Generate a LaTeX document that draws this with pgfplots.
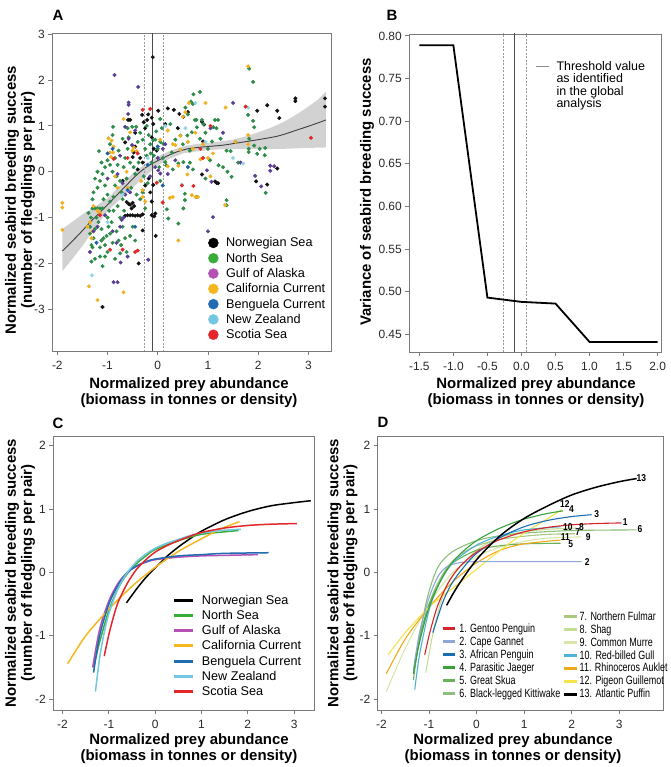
\documentclass[border=0pt]{standalone}
\usepackage{fontspec}
\setmainfont{Liberation Sans}
\newfontfamily\narrowfont[FakeStretch=0.75]{Liberation Sans}
\newfontfamily\labelfont[FakeStretch=0.85]{Liberation Sans}
\usepackage{pgfplots}
\pgfplotsset{compat=1.18}

% region colours (legends) and point colours (scatter)
\definecolor{axgray}{HTML}{7A7A7A}
\definecolor{tickgray}{HTML}{2A2A2A}
\definecolor{cNor}{HTML}{000000}
\definecolor{cNS}{HTML}{3AAC3A}
\definecolor{cGoA}{HTML}{B550B5}
\definecolor{cCal}{HTML}{F5B71E}
\definecolor{cBen}{HTML}{1F6CB3}
\definecolor{cNZ}{HTML}{74C7E2}
\definecolor{cSco}{HTML}{E3262A}
\definecolor{pNor}{HTML}{111111}
\definecolor{pNS}{HTML}{2E8C4A}
\definecolor{pGoA}{HTML}{5A3E96}
\definecolor{pCal}{HTML}{F0B020}
\definecolor{pBen}{HTML}{2060A8}
\definecolor{pNZ}{HTML}{8FD4E6}
\definecolor{pSco}{HTML}{E02828}
% species colours
\definecolor{s1}{HTML}{D7262B}
\definecolor{s2}{HTML}{8FA7D6}
\definecolor{s3}{HTML}{1B6DB4}
\definecolor{s4}{HTML}{3AA23A}
\definecolor{s5}{HTML}{6AB25A}
\definecolor{s6}{HTML}{8CBF7A}
\definecolor{s7}{HTML}{A9C97F}
\definecolor{s8}{HTML}{C5DD95}
\definecolor{s9}{HTML}{D8E6A8}
\definecolor{s10}{HTML}{4FB3D9}
\definecolor{s11}{HTML}{F0A91B}
\definecolor{s12}{HTML}{F5E34A}
\definecolor{s13}{HTML}{000000}

\pgfplotsset{
  panel/.style={
    scale only axis, anchor=south west,
    axis line style={draw=axgray, line width=0.9bp},
    every tick/.style={draw=axgray, line width=0.9bp},
    tick align=outside, major tick length=4bp,
    xtick pos=bottom, ytick pos=left,
    ticklabel style={font=\fontsize{12}{14}\selectfont, text=tickgray},
    xticklabel style={yshift=-3bp},
    /pgf/number format/assume math mode=true,
    legend cell align=left,
  },
  dot/.style={only marks, mark=*, mark size=1.8bp, forget plot},
  thrsolid/.style={draw=black!70, line width=1.1bp, forget plot},
  thrdash/.style={draw=black!40, line width=0.8bp, dash pattern=on 2bp off 1.5bp, forget plot},
  rcurve/.style={smooth, line width=1.5bp, forget plot},
  scurve/.style={smooth, line width=1.1bp, forget plot},
}

\begin{document}
\begin{tikzpicture}[x=1bp,y=1bp]
\useasboundingbox (0,0) rectangle (671,767);

%================ Panel A: breeding success vs prey abundance
\begin{axis}[panel, at={(52.3bp,416bp)}, width=278.7bp, height=317.7bp,
  xmin=-2.1, xmax=3.45, ymin=-3.91, ymax=3.02,
  xtick={-2,-1,0,1,2,3}, ytick={-3,-2,-1,0,1,2,3},
  legend image code/.code={\draw[#1] plot coordinates {(5bp,0bp)};},
  legend style={at={(0.56,0.359)}, anchor=north west, draw=none, fill=none,
    inner sep=0pt, outer sep=0pt, row sep=3.3bp, column sep=7.7bp,
    font=\fontsize{12.7}{14}\selectfont,
    nodes={inner sep=0pt, text height=10bp, text depth=2bp}},
]
% Norwegian Sea
\addplot[dot, color=pNor] coordinates {
(-0.10,2.50) (-0.59,1.13) (-0.55,1.13) (-0.31,1.24) (-0.28,1.08) (-0.21,1.13) (-0.19,1.25) (-0.12,1.18) (-0.25,0.95) (-0.65,0.64) (-0.48,0.42) (-0.50,0.32) (-0.45,0.55) (-0.35,0.30) (-0.30,0.20) (-0.40,0.05)
(0.01,1.33) (0.32,1.35) (0.43,1.26) (0.51,1.20) (0.88,1.09) (0.92,1.03) (0.90,0.66) (-0.09,1.04) (0.15,1.04) (-0.12,0.75) (-0.02,0.46) (-0.08,0.50) (0.20,1.38)
(-0.62,-0.66) (-0.58,-0.70) (-0.55,-0.72) (-0.50,-0.68) (-0.47,-0.75) (-0.52,-0.80) (-0.65,-0.96) (-0.60,-0.95) (-0.55,-0.95) (-0.50,-0.95) (-0.45,-0.96) (-0.40,-0.95) (-0.35,-0.96) (-0.30,-0.93) (-0.12,-0.95) (-0.07,-0.97) (-0.04,-1.40) (-0.30,-1.28) (-0.38,-2.00) (-1.10,-2.95) (-0.15,-0.45) (-0.09,-0.29) (-0.05,-0.91) (-0.12,-0.65) (-0.18,-0.15) (-0.25,-0.30) (-0.70,-0.20) (-0.45,0.85)
(0.88,-0.06) (1.14,-0.21) (1.17,-0.24) (1.20,-0.25) (1.96,-0.21) (2.18,-0.28) (2.38,0.07) (1.98,1.33) (2.18,1.45) (2.38,1.33) (2.42,1.17) (2.74,1.60) (2.74,1.54) (3.33,1.60) (3.33,1.42) (0.60,1.30) (0.40,0.95)
};
% North Sea
\addplot[dot, color=pNS] coordinates {
(-1.35,-1.20) (-1.32,-1.60) (-1.30,-1.65) (-1.28,-1.45) (-1.25,-1.25) (-1.30,-0.80) (-1.25,-0.80) (-1.20,-0.80) (-1.15,-0.80) (-1.10,-0.80) (-1.22,-1.00) (-1.18,-1.10) (-1.12,-1.25) (-1.08,-1.45) (-1.05,-1.60) (-1.00,-1.75) (-1.15,-1.85) (-1.25,-1.90) (-1.32,-1.96) (-1.10,-2.06) (-1.05,-1.85) (-1.35,-1.35) (-1.28,-0.45) (-1.20,-0.35) (-1.15,-0.20) (-1.10,-0.05) (-1.05,0.10) (-1.12,0.20) (-1.20,0.00) (-1.25,-0.15) (-1.00,0.25) (-0.95,0.15) (-0.90,0.00) (-1.05,-0.30) (-1.00,-0.50) (-0.95,-0.65) (-1.08,-0.60) (-1.00,-1.00) (-0.98,-1.20) (-0.95,-1.35) (-1.02,-1.40) (-1.12,-1.50) (-0.90,-1.55) (-0.92,-1.10) (-0.88,-0.85) (-0.85,-0.30) (-0.82,-0.10) (-1.17,0.45) (-0.95,0.60) (-0.90,0.80) (-0.89,0.98) (-1.30,-0.60) (-1.33,-1.00) (-1.38,-0.90) (-1.15,-1.65) (-0.97,-0.85)
(-0.85,0.30) (-0.80,0.15) (-0.78,0.46) (-0.75,-0.20) (-0.72,-0.45) (-0.70,-0.60) (-0.68,0.10) (-0.65,0.30) (-0.62,-0.15) (-0.60,0.50) (-0.58,0.75) (-0.55,0.20) (-0.53,-0.35) (-0.51,0.98) (-0.43,0.98) (-0.48,0.10) (-0.45,-0.05) (-0.42,-0.50) (-0.40,0.65) (-0.38,0.20) (-0.82,-1.30) (-0.78,-1.50) (-0.75,-1.00) (-0.70,-1.20) (-0.65,-1.45) (-0.62,-1.75) (-0.75,-1.78) (-0.85,-1.90) (-0.55,-1.40) (-0.50,-1.20) (-0.45,-1.50) (-0.88,-0.55) (-0.80,-0.75) (-0.67,-0.85) (-0.60,0.95) (-0.70,0.72) (-0.73,-1.60)
(-0.35,0.85) (-0.30,0.70) (-0.28,-0.10) (-0.25,0.50) (-0.22,0.35) (-0.18,0.80) (-0.15,0.60) (-0.12,0.20) (-0.08,0.35) (-0.05,0.70) (-0.03,0.88) (0.00,0.50) (0.03,0.10) (0.05,0.65) (0.08,0.95) (-0.20,-0.25) (-0.30,-0.45) (-0.35,-0.60) (-0.25,-0.80) (0.05,-0.20) (0.10,0.30) (-0.22,1.00) (-0.14,0.40)
(0.71,1.69) (0.84,1.74) (0.66,1.53) (0.70,1.48) (0.74,1.13) (0.77,1.13) (0.88,1.13) (0.91,1.04) (1.14,1.13) (1.20,1.13) (1.11,0.97) (1.17,0.95) (0.78,0.97) (0.68,0.86) (0.59,0.79) (0.45,0.79) (0.84,0.72) (1.08,0.66) (1.25,0.72) (1.37,0.46) (0.64,0.46) (0.28,0.42) (0.11,0.61) (-0.09,0.69) (0.25,1.04) (0.05,1.15) (0.35,0.70) (0.50,0.60) (0.95,0.85) (1.00,0.50) (0.55,1.40) (0.60,1.25)
(0.15,0.21) (0.17,0.14) (0.51,0.21) (0.41,0.18) (0.64,0.20) (1.04,0.25) (1.21,0.14) (1.39,0.00) (1.47,-0.11) (0.54,-0.48) (0.54,-0.62) (0.51,-0.80) (0.18,-0.82) (0.21,-1.02) (0.41,-1.13) (0.78,-0.55) (1.37,-0.62) (1.37,-0.73) (0.30,0.05) (0.70,0.05) (0.95,-0.15)
(1.80,1.24) (1.90,1.11) (1.92,0.97) (1.82,0.72) (1.92,0.57) (1.81,0.50) (2.03,0.50) (2.14,0.52) (1.81,0.43) (1.98,0.39) (2.13,0.36) (1.90,1.96) (1.82,2.25) (2.15,-0.46) (1.55,0.65) (1.45,0.45) (1.60,0.20) (1.30,0.10)
};
% California Current
\addplot[dot, color=pCal] coordinates {
(-1.90,-0.68) (-1.90,-0.78) (-1.90,-1.27) (-1.37,-2.50) (-1.20,-2.80) (-0.68,-2.63) (-1.30,-1.30) (-1.32,-1.45) (-1.35,-1.10) (-1.28,-0.75) (-1.20,-0.85) (-1.15,-0.90) (-0.80,-0.35) (-0.88,0.55) (-0.89,0.42) (-0.98,0.73) (-0.92,0.68) (-0.68,1.15) (-0.55,0.86) (-0.48,0.53) (-0.50,0.46) (-0.95,0.42) (-0.93,0.32) (-0.85,-0.10) (-0.60,-0.35) (-0.62,0.00) (-0.33,-0.20) (-0.30,-0.40) (-0.30,-0.55) (-0.25,-0.65) (-0.42,0.45) (-1.40,-1.20)
(0.05,0.70) (0.20,0.12) (0.35,0.58) (0.45,0.78) (0.50,1.20) (0.55,1.30) (0.60,0.65) (0.62,1.50) (0.70,0.50) (0.75,0.85) (0.85,0.27) (0.95,1.50) (0.90,0.60) (1.00,0.30) (1.05,-0.10) (0.30,-0.55) (0.41,-1.50) (0.68,-0.51) (0.75,-0.55) (0.80,-0.55) (0.20,0.90) (0.45,0.48) (1.35,1.40) (1.34,-0.73) (1.55,0.65) (1.80,0.80) (1.80,0.60) (1.80,2.30) (0.30,0.60) (0.41,0.13) (0.59,-0.06) (0.24,-0.57) (1.10,0.40)
};
% Gulf of Alaska
\addplot[dot, color=pGoA] coordinates {
(-0.86,2.11) (-0.39,1.85) (-0.58,1.51) (-0.58,1.46) (-0.59,1.26) (-0.65,0.98) (-0.58,0.72) (-0.51,0.58) (-0.75,0.35) (-0.80,-0.05) (-0.70,-0.25) (-0.65,-0.50) (-0.55,-0.45) (-1.05,-0.95) (-0.90,-1.30) (-0.82,-1.55) (-0.75,-1.20) (-0.72,-1.05) (-0.68,-1.00) (-0.60,-1.85) (-0.88,-2.41) (-0.80,-2.41) (-0.19,-1.92) (-0.74,-1.98) (-1.35,-1.75) (-1.28,-1.30) (-1.20,-1.20) (-0.15,-0.10) (-0.05,0.10) (0.00,0.30) (0.01,0.03) (0.05,-0.04) (0.10,0.50) (0.15,0.60) (0.35,0.25) (0.98,0.03) (1.07,-0.22) (1.10,-0.99) (1.00,-1.30) (1.50,1.50) (1.65,0.20) (1.30,0.85) (2.24,0.13) (2.24,0.02) (1.94,-0.09) (2.06,-0.32) (2.32,0.12) (1.05,0.95) (0.20,-0.05) (-0.45,0.90) (-1.00,-0.15)
};
% Benguela Current
\addplot[dot, color=pBen] coordinates {
(-0.90,0.50) (-0.45,-1.20) (-0.20,0.15) (0.00,0.55) (0.60,0.10) (-1.00,0.40) (0.10,-0.30) (-0.60,-0.40) (-1.22,-1.55)
};
% New Zealand
\addplot[dot, color=pNZ] coordinates {
(1.80,1.40) (-1.31,-2.26) (0.75,1.50) (0.95,0.65) (0.48,-0.28) (-0.20,0.30) (0.55,0.95) (-0.70,-0.50) (1.70,0.18) (0.15,1.00) (1.50,0.30) (-1.00,-1.10)
};
% Scotia Sea
\addplot[dot, color=pSco] coordinates {
(-0.15,1.37) (-0.88,0.28) (-0.95,-1.70) (-0.70,-1.70) (-0.45,-1.75) (-0.40,-1.72) (0.10,-0.67) (0.48,-0.30) (0.71,-0.31) (0.90,0.30) (1.05,1.00) (1.75,1.42) (3.05,0.74) (-0.60,0.30) (-0.40,0.40) (-0.02,-0.24) (0.85,0.50) (-1.15,-0.95) (-0.30,1.35)
};
% confidence band of the smoothed fit (upper edge, then lower edge back)
\addplot[fill=black!25, fill opacity=0.7, draw=none, forget plot] coordinates {
(-1.9,-1.25) (-1.7,-1.09) (-1.5,-0.93) (-1.25,-0.76) (-1.0,-0.58) (-0.75,-0.30) (-0.5,-0.04) (-0.25,0.17) (0,0.33) (0.25,0.46) (0.5,0.55) (0.75,0.60) (1,0.63) (1.25,0.66) (1.5,0.70) (1.75,0.77) (2,0.86) (2.25,0.96) (2.5,1.08) (2.75,1.24) (3,1.42) (3.2,1.58) (3.35,1.75)
(3.35,0.53) (3,0.52) (2.5,0.50) (2,0.50) (1.5,0.50) (1.25,0.49) (1,0.47) (0.75,0.44) (0.5,0.40) (0.25,0.29) (0,0.14) (-0.25,-0.10) (-0.5,-0.35) (-0.75,-0.60) (-1.0,-0.86) (-1.25,-1.22) (-1.5,-1.62) (-1.7,-1.90) (-1.9,-2.17)
} -- cycle;
\addplot[smooth, draw=black!75, line width=0.9bp, forget plot] coordinates {
(-1.9,-1.73) (-1.6,-1.40) (-1.3,-1.05) (-1.0,-0.72) (-0.7,-0.38) (-0.4,-0.05) (-0.2,0.12) (0,0.24) (0.2,0.35) (0.4,0.44) (0.6,0.50) (0.8,0.53) (1.0,0.55) (1.3,0.58) (1.6,0.63) (2.0,0.70) (2.4,0.78) (2.8,0.92) (3.1,1.03) (3.35,1.13)};
% threshold and its confidence limits
\addplot[thrdash] coordinates {(-0.27,-4) (-0.27,3.1)};
\addplot[thrdash] coordinates {(0.12,-4) (0.12,3.1)};
\addplot[thrsolid] coordinates {(-0.10,-4) (-0.10,3.1)};
% legend
\addlegendimage{only marks, mark=*, mark size=5bp, color=cNor}\addlegendentry{Norwegian Sea}
\addlegendimage{only marks, mark=*, mark size=5bp, color=cNS}\addlegendentry{North Sea}
\addlegendimage{only marks, mark=*, mark size=5bp, color=cGoA}\addlegendentry{Gulf of Alaska}
\addlegendimage{only marks, mark=*, mark size=5bp, color=cCal}\addlegendentry{California Current}
\addlegendimage{only marks, mark=*, mark size=5bp, color=cBen}\addlegendentry{Benguela Current}
\addlegendimage{only marks, mark=*, mark size=5bp, color=cNZ}\addlegendentry{New Zealand}
\addlegendimage{only marks, mark=*, mark size=5bp, color=cSco}\addlegendentry{Scotia Sea}
\end{axis}

%================ Panel B: variance of breeding success
\begin{axis}[panel, at={(409.3bp,415bp)}, width=252.4bp, height=318bp,
  xmin=-1.647, xmax=2.06, ymin=0.4292, ymax=0.8023,
  xtick={-1.5,-1.0,-0.5,0,0.5,1.0,1.5,2.0},
  ytick={0.45,0.50,0.55,0.60,0.65,0.70,0.75,0.80},
  xticklabel style={/pgf/number format/.cd, fixed, fixed zerofill, precision=1},
  yticklabel style={/pgf/number format/.cd, fixed, fixed zerofill, precision=2},
  legend image code/.code={\draw[#1] (0bp,0bp) -- (13bp,0bp);},
  legend style={at={(0.498,0.917)}, anchor=north west, draw=none, fill=none,
    inner sep=0pt, outer sep=0pt, row sep=0.5bp, column sep=7bp,
    font=\fontsize{12.5}{14}\selectfont,
    nodes={inner sep=0pt, text height=10bp, text depth=2bp}},
]
\addplot[thrdash] coordinates {(-0.27,0.4) (-0.27,0.9)};
\addplot[thrdash] coordinates {(0.07,0.4) (0.07,0.9)};
\addplot[thrsolid] coordinates {(-0.10,0.4) (-0.10,0.9)};
\addplot[black, line width=1.8bp, forget plot] coordinates {
(-1.5,0.789) (-1.0,0.789) (-0.5,0.493) (0.0,0.488) (0.5,0.486) (1.0,0.441) (2.0,0.441)};
\addlegendimage{draw=black!45, line width=1.5bp}\addlegendentry{Threshold value}
\addlegendimage{empty legend}\addlegendentry{as identified}
\addlegendimage{empty legend}\addlegendentry{in the global}
\addlegendimage{empty legend}\addlegendentry{analysis}
\end{axis}

%================ Panel C: fitted curves per region
\begin{axis}[panel, at={(53.3bp,57bp)}, width=260.7bp, height=273.3bp,
  xmin=-2.2, xmax=3.43, ymin=-2.17, ymax=2.14,
  xtick={-2,-1,0,1,2,3}, ytick={-2,-1,0,1,2},
  legend image code/.code={\draw[#1, line width=3bp] (0bp,0bp) -- (19bp,0bp);},
  legend style={at={(0.459,0.4244)}, anchor=north west, draw=none, fill=none,
    inner sep=0pt, outer sep=0pt, row sep=3.3bp, column sep=7bp,
    font=\fontsize{12.7}{14}\selectfont,
    nodes={inner sep=0pt, text height=10bp, text depth=2bp}},
]
\addplot[rcurve, cNor] coordinates {(-0.62,-0.48) (-0.4,-0.26) (-0.2,-0.08) (0,0.07) (0.25,0.25) (0.5,0.40) (0.75,0.53) (1.0,0.65) (1.5,0.83) (2.0,0.96) (2.5,1.05) (3.0,1.10) (3.36,1.13)};
\addplot[rcurve, cNS] coordinates {(-1.33,-1.50) (-1.2,-1.10) (-1.0,-0.60) (-0.8,-0.25) (-0.6,-0.02) (-0.4,0.14) (-0.2,0.26) (0,0.36) (0.5,0.50) (1.0,0.60) (1.5,0.64) (1.8,0.66)};
\addplot[rcurve, cGoA] coordinates {(-1.35,-1.50) (-1.2,-0.90) (-1.0,-0.45) (-0.8,-0.17) (-0.6,0.00) (-0.4,0.10) (-0.2,0.16) (0,0.20) (0.5,0.24) (1.0,0.26) (1.6,0.27) (2.22,0.28)};
\addplot[rcurve, cCal] coordinates {(-1.89,-1.44) (-1.5,-1.00) (-1.0,-0.58) (-0.5,-0.22) (0,0.08) (0.5,0.33) (1.0,0.53) (1.4,0.68) (1.82,0.80)};
\addplot[rcurve, cBen] coordinates {(-1.33,-1.58) (-1.2,-1.00) (-1.0,-0.50) (-0.8,-0.20) (-0.6,0.00) (-0.4,0.10) (-0.2,0.17) (0,0.21) (0.5,0.26) (1.0,0.28) (1.5,0.30) (2.45,0.31)};
\addplot[rcurve, cNZ] coordinates {(-1.29,-1.88) (-1.2,-1.35) (-1.1,-0.95) (-1.0,-0.65) (-0.8,-0.25) (-0.6,0.00) (-0.4,0.17) (-0.2,0.29) (0,0.38) (0.25,0.46) (0.5,0.52) (0.75,0.58) (1.0,0.62) (1.4,0.66) (1.85,0.68)};
\addplot[rcurve, cSco] coordinates {(-1.10,-1.32) (-1.0,-0.98) (-0.9,-0.70) (-0.8,-0.47) (-0.6,-0.17) (-0.4,0.05) (-0.2,0.20) (0,0.32) (0.25,0.42) (0.5,0.50) (0.75,0.57) (1.0,0.63) (1.5,0.70) (2.0,0.74) (2.5,0.76) (3.06,0.77)};
\addlegendimage{cNor}\addlegendentry{Norwegian Sea}
\addlegendimage{cNS}\addlegendentry{North Sea}
\addlegendimage{cGoA}\addlegendentry{Gulf of Alaska}
\addlegendimage{cCal}\addlegendentry{California Current}
\addlegendimage{cBen}\addlegendentry{Benguela Current}
\addlegendimage{cNZ}\addlegendentry{New Zealand}
\addlegendimage{cSco}\addlegendentry{Scotia Sea}
\end{axis}

%================ Panel D: fitted curves per species
\begin{axis}[panel, at={(377.7bp,57bp)}, width=285.6bp, height=273.3bp,
  xmin=-2.08, xmax=3.93, ymin=-2.17, ymax=2.14,
  xtick={-2,-1,0,1,2,3}, ytick={-2,-1,0,1,2},
  legend image code/.code={\draw[#1, line width=3bp] (0bp,0bp) -- (12bp,0bp);},
  legend style={at={(0.2216,0.3165)}, anchor=north west, draw=none, fill=none,
    inner sep=0pt, outer sep=0pt, row sep=1.94bp, column sep=3.4bp,
    font=\narrowfont\fontsize{12}{13}\selectfont,
    nodes={inner sep=0pt, text height=9bp, text depth=2bp}},
]
\addplot[scurve, s9] coordinates {(-1.9,-1.88) (-1.5,-1.20) (-1.0,-0.50) (-0.5,0.00) (0,0.25) (0.5,0.40) (1.0,0.49) (1.5,0.54) (2.21,0.56)};
\addplot[scurve, s8] coordinates {(-1.07,-1.58) (-0.9,-0.90) (-0.7,-0.35) (-0.5,-0.05) (0,0.35) (0.5,0.55) (1.0,0.64) (1.5,0.68) (2.1,0.70)};
\addplot[scurve, s7] coordinates {(-1.30,-1.40) (-1.1,-0.80) (-0.9,-0.30) (-0.6,0.10) (-0.3,0.30) (0,0.42) (0.5,0.52) (1.0,0.57) (1.5,0.60) (2.07,0.61)};
\addplot[scurve, s6] coordinates {(-1.30,-1.50) (-1.15,-0.80) (-1.0,-0.30) (-0.8,0.10) (-0.5,0.33) (0,0.50) (0.5,0.58) (1.0,0.62) (2.0,0.66) (3.37,0.67)};
\addplot[scurve, s5] coordinates {(-1.33,-1.70) (-1.2,-1.05) (-1.0,-0.50) (-0.7,-0.05) (-0.5,0.15) (0,0.35) (0.5,0.42) (1.0,0.45) (1.77,0.46)};
\addplot[scurve, s11] coordinates {(-1.90,-1.60) (-1.5,-1.05) (-1.0,-0.55) (-0.5,-0.15) (0,0.15) (0.5,0.35) (1.0,0.45) (1.77,0.51)};
\addplot[scurve, s12] coordinates {(-1.86,-1.30) (-1.5,-0.95) (-1.0,-0.55) (-0.5,-0.25) (0,0.05) (0.5,0.35) (1.0,0.62) (1.5,0.85) (1.79,0.99)};
\addplot[scurve, s10] coordinates {(-1.30,-1.85) (-1.2,-1.30) (-1.0,-0.60) (-0.8,-0.20) (-0.5,0.15) (0,0.43) (0.5,0.58) (1.0,0.67) (1.77,0.72)};
\addplot[scurve, s2] coordinates {(-1.33,-1.55) (-1.2,-0.95) (-1.0,-0.40) (-0.8,-0.05) (-0.6,0.10) (-0.3,0.16) (0,0.17) (1.0,0.17) (2.21,0.17)};
\addplot[scurve, s4] coordinates {(-1.33,-1.60) (-1.2,-1.10) (-1.0,-0.55) (-0.7,-0.05) (-0.4,0.25) (0,0.50) (0.5,0.70) (1.0,0.84) (1.5,0.93) (1.82,0.97)};
\addplot[scurve, s3] coordinates {(-0.92,-0.95) (-0.7,-0.45) (-0.5,-0.15) (-0.25,0.10) (0,0.30) (0.5,0.55) (1.0,0.72) (1.5,0.82) (2.0,0.88) (2.42,0.91)};
\addplot[scurve, s1] coordinates {(-1.09,-1.30) (-1.0,-1.00) (-0.9,-0.72) (-0.8,-0.49) (-0.6,-0.17) (-0.4,0.05) (-0.2,0.20) (0,0.32) (0.25,0.43) (0.5,0.52) (1.0,0.64) (1.5,0.71) (2.0,0.75) (2.5,0.77) (3.05,0.78)};
\addplot[scurve, s13, line width=1.5bp] coordinates {(-0.63,-0.52) (-0.4,-0.22) (0,0.20) (0.5,0.58) (1.0,0.85) (1.5,1.05) (2.0,1.22) (2.5,1.34) (3.0,1.43) (3.37,1.48)};
% end labels
\begin{scope}[every node/.style={font=\labelfont\bfseries\fontsize{10}{10}\selectfont, inner sep=0pt}]
\node at (axis cs:3.47,1.49) {13};
\node at (axis cs:1.86,1.08) {12};
\node at (axis cs:2.00,1.00) {4};
\node at (axis cs:2.53,0.92) {3};
\node at (axis cs:3.13,0.80) {1};
\node at (axis cs:3.44,0.69) {6};
\node at (axis cs:1.92,0.72) {10};
\node at (axis cs:2.21,0.72) {8};
\node at (axis cs:2.13,0.64) {7};
\node at (axis cs:2.35,0.56) {9};
\node at (axis cs:1.87,0.56) {11};
\node at (axis cs:1.98,0.44) {5};
\node at (axis cs:2.33,0.17) {2};
\end{scope}
\addlegendimage{s1}\addlegendentry{1. Gentoo Penguin}
\addlegendimage{s2}\addlegendentry{2. Cape Gannet}
\addlegendimage{s3}\addlegendentry{3. African Penguin}
\addlegendimage{s4}\addlegendentry{4. Parasitic Jaeger}
\addlegendimage{s5}\addlegendentry{5. Great Skua}
\addlegendimage{s6}\addlegendentry{6. Black-legged Kittiwake}
\end{axis}
% second legend column of panel D
\begin{axis}[scale only axis, anchor=south west, at={(377.7bp,57bp)}, width=285.6bp, height=273.3bp,
  hide axis, xmin=0, xmax=1, ymin=0, ymax=1, legend cell align=left,
  legend image code/.code={\draw[#1, line width=3bp] (0bp,0bp) -- (12.7bp,0bp);},
  legend style={at={(0.6464,0.3615)}, anchor=north west, draw=none, fill=none,
    inner sep=0pt, outer sep=0pt, row sep=1.94bp, column sep=1.7bp,
    font=\narrowfont\fontsize{12}{13}\selectfont,
    nodes={inner sep=0pt, text height=9bp, text depth=2bp}},
]
\addlegendimage{s7}\addlegendentry{7. Northern Fulmar}
\addlegendimage{s8}\addlegendentry{8. Shag}
\addlegendimage{s9}\addlegendentry{9. Common Murre}
\addlegendimage{s10}\addlegendentry{10. Red-billed Gull}
\addlegendimage{s11}\addlegendentry{11. Rhinoceros Auklet}
\addlegendimage{s12}\addlegendentry{12. Pigeon Guillemot}
\addlegendimage{s13}\addlegendentry{13. Atlantic Puffin}
\end{axis}

%================ axis titles and panel letters
\begin{scope}[every node/.style={font=\fontsize{15}{16}\selectfont\bfseries, align=center, inner sep=0pt}]
\node[rotate=90] at (20,567) {Normalized seabird breeding success\\(number of fledglings per pair)};
\node[rotate=90] at (367,575) {Variance of seabird breeding success};
\node[rotate=90] at (20,194) {Normalized seabird breeding success\\(number of fledglings per pair)};
\node[rotate=90] at (342.5,194) {Normalized seabird breeding success\\(number of fledglings per pair)};
\node at (189,374) {Normalized prey abundance\\(biomass in tonnes or density)};
\node at (536,374) {Normalized prey abundance\\(biomass in tonnes or density)};
\node at (189,18) {Normalized prey abundance\\(biomass in tonnes or density)};
\node at (513,18) {Normalized prey abundance\\(biomass in tonnes or density)};
\node at (58,752) {A};
\node at (392,752) {B};
\node at (58,344) {C};
\node at (383,345) {D};
\end{scope}
\end{tikzpicture}
\end{document}
